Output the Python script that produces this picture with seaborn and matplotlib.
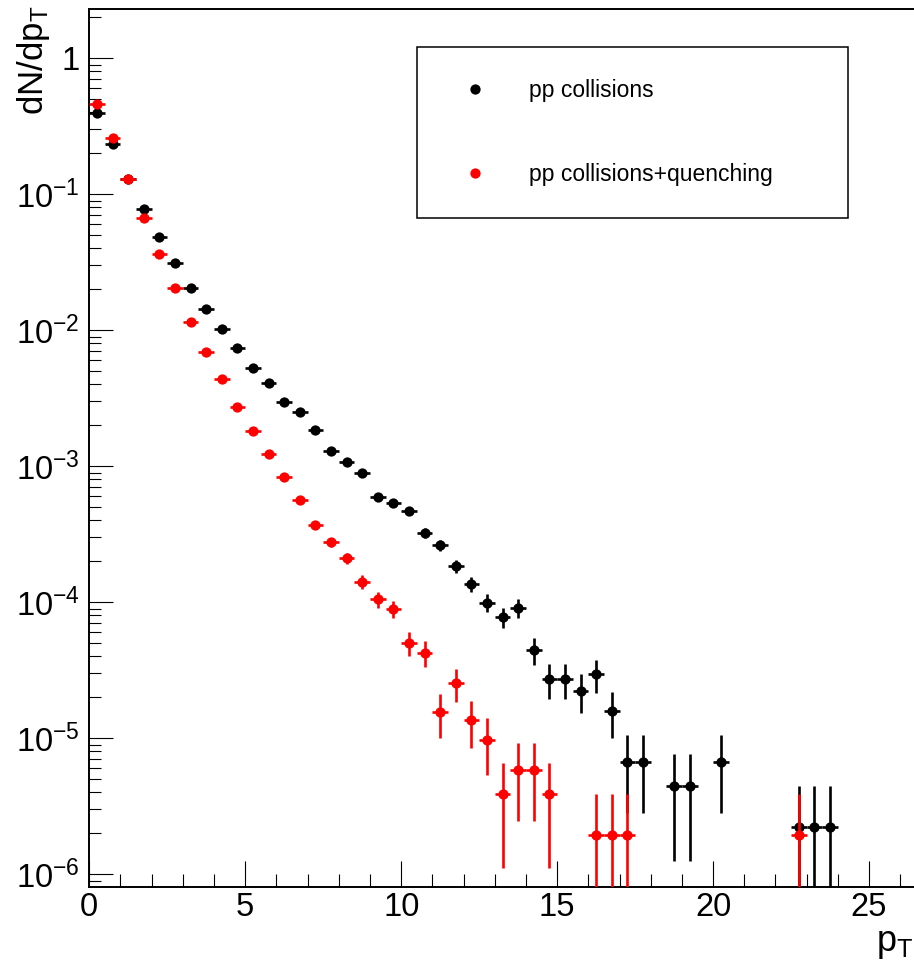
import numpy as np
import pandas as pd
import seaborn as sns
import matplotlib
matplotlib.use("Agg")
import matplotlib.pyplot as plt
from matplotlib.ticker import FixedLocator, FixedFormatter, LogLocator, NullFormatter, MultipleLocator
from matplotlib.lines import Line2D

# ---------------- data ----------------
pt_black = [0.25, 0.75, 1.25, 1.75, 2.25, 2.75, 3.25, 3.75, 4.25, 4.75,
            5.25, 5.75, 6.25, 6.75, 7.25, 7.75, 8.25, 8.75, 9.25, 9.75,
            10.25, 10.75, 11.25, 11.75, 12.25, 12.75, 13.25, 13.75, 14.25, 14.75,
            15.25, 15.75, 16.25, 16.75, 17.25, 17.75, 18.75, 19.25, 20.25,
            22.75, 23.25, 23.75]
y_black = [0.394, 0.234, 0.1296, 0.0776, 0.0483, 0.0311, 0.0204, 0.01446, 0.01022, 0.00738,
           0.00531, 0.00408, 0.00296, 0.00251, 0.00184, 0.00130, 0.00108, 0.000889, 0.000597, 0.000534,
           0.000467, 0.000322, 0.000262, 0.000185, 0.000137, 9.93e-5, 7.76e-5, 9.12e-5, 4.48e-5, 2.72e-5,
           2.72e-5, 2.24e-5, 2.96e-5, 1.59e-5, 6.73e-6, 6.73e-6, 4.46e-6, 4.46e-6, 6.73e-6,
           2.24e-6, 2.24e-6, 2.24e-6]
err_black = [9.4e-4, 7.2e-4, 5.4e-4, 4.2e-4, 3.3e-4, 2.6e-4, 2.1e-4, 1.8e-4, 1.5e-4, 1.3e-4,
             1.1e-4, 9.6e-5, 8.1e-5, 7.5e-5, 6.4e-5, 5.4e-5, 4.9e-5, 4.5e-5, 3.7e-5, 3.5e-5,
             3.2e-5, 2.7e-5, 2.4e-5, 2.0e-5, 1.75e-5, 1.5e-5, 1.3e-5, 1.4e-5, 1.0e-5, 7.8e-6,
             7.8e-6, 7.1e-6, 8.1e-6, 5.9e-6, 3.9e-6, 3.9e-6, 3.2e-6, 3.2e-6, 3.9e-6,
             2.24e-6, 2.24e-6, 2.24e-6]

pt_red = [0.25, 0.75, 1.25, 1.75, 2.25, 2.75, 3.25, 3.75, 4.25, 4.75,
          5.25, 5.75, 6.25, 6.75, 7.25, 7.75, 8.25, 8.75, 9.25, 9.75,
          10.25, 10.75, 11.25, 11.75, 12.25, 12.75, 13.25, 13.75, 14.25, 14.75,
          16.25, 16.75, 17.25, 22.75]
y_red = [0.461, 0.258, 0.130, 0.0666, 0.0364, 0.0204, 0.01156, 0.00689, 0.00436, 0.00274,
         0.00182, 0.00123, 0.00083, 0.000565, 0.00037, 0.000276, 0.000211, 0.000142, 0.000105, 8.93e-5,
         5.05e-5, 4.26e-5, 1.55e-5, 2.54e-5, 1.36e-5, 9.7e-6, 3.87e-6, 5.85e-6, 5.85e-6, 3.87e-6,
         1.95e-6, 1.95e-6, 1.95e-6, 1.95e-6]
err_red = [9.5e-4, 7.1e-4, 5.0e-4, 3.6e-4, 2.66e-4, 2.0e-4, 1.5e-4, 1.16e-4, 9.2e-5, 7.3e-5,
           5.9e-5, 4.9e-5, 4.0e-5, 3.3e-5, 2.7e-5, 2.3e-5, 2.0e-5, 1.66e-5, 1.4e-5, 1.3e-5,
           9.9e-6, 9.1e-6, 5.5e-6, 7.0e-6, 5.1e-6, 4.3e-6, 2.75e-6, 3.4e-6, 3.4e-6, 2.75e-6,
           1.95e-6, 1.95e-6, 1.95e-6, 1.95e-6]
bin_half_width = 0.25

labels = ["pp collisions", "pp collisions+quenching"]
colors = ["black", "red"]
ytick_vals = [1e-6, 1e-5, 1e-4, 1e-3, 1e-2, 1e-1, 1.0]
ytick_labels = [r"$\mathdefault{10^{-6}}$", r"$\mathdefault{10^{-5}}$", r"$\mathdefault{10^{-4}}$",
                r"$\mathdefault{10^{-3}}$", r"$\mathdefault{10^{-2}}$", r"$\mathdefault{10^{-1}}$",
                r"$\mathdefault{1}$"]
xtick_vals = [0, 5, 10, 15, 20, 25]

# ---------------- style ----------------
sns.set_theme(style="white")
plt.rcParams["font.family"] = ["Liberation Sans", "DejaVu Sans"]
plt.rcParams["mathtext.fontset"] = "custom"
plt.rcParams["mathtext.rm"] = "Liberation Sans"
plt.rcParams["mathtext.it"] = "Liberation Sans:italic"
plt.rcParams["mathtext.bf"] = "Liberation Sans:bold"
plt.rcParams["axes.unicode_minus"] = True

W, H = 914, 966
fig = plt.figure(figsize=(W / 100, H / 100), dpi=100)
fig.patch.set_facecolor("white")

left_px, top_px, bottom_px = 89.3, 9.3, 886.7
xmax = 26.5
px_per_unit = 31.19
right_px = left_px + xmax * px_per_unit
ax = fig.add_axes([left_px / W, 1 - bottom_px / H, (right_px - left_px) / W, (bottom_px - top_px) / H])
ax.set_facecolor("white")

df_b = pd.DataFrame({"pt": pt_black, "y": y_black, "err": err_black})
df_r = pd.DataFrame({"pt": pt_red, "y": y_red, "err": err_red})

ms = 7.4
ax.set_yscale("log")
for i, (df, c) in enumerate([(df_b, colors[0]), (df_r, colors[1])]):
    ax.errorbar(df["pt"], df["y"], yerr=df["err"], xerr=bin_half_width, fmt="none",
                ecolor=c, elinewidth=1.9, capsize=0, zorder=2 + 2 * i)
    sns.scatterplot(data=df, x="pt", y="y", ax=ax, color=c, s=ms ** 2, linewidth=0,
                    marker="o", legend=False, zorder=3 + 2 * i)

ax.set_xlim(0, xmax)
ax.set_ylim(10 ** (-6 - (886.7 - 874.3) / 136), 10 ** ((58.3 - 9.3) / 136))
ax.set_xlabel("")
ax.set_ylabel("")

# ticks
ax.yaxis.set_major_locator(FixedLocator(ytick_vals))
ax.yaxis.set_major_formatter(FixedFormatter(ytick_labels))
ax.yaxis.set_minor_locator(LogLocator(base=10, subs=np.arange(2, 10), numticks=30))
ax.yaxis.set_minor_formatter(NullFormatter())
ax.xaxis.set_major_locator(FixedLocator(xtick_vals))
ax.xaxis.set_minor_locator(MultipleLocator(1))
ax.xaxis.set_minor_formatter(NullFormatter())

ax.tick_params(axis="both", which="both", direction="in", left=True, bottom=True,
               right=False, top=False, colors="black", width=0.8)
ax.tick_params(axis="y", which="major", length=17.3, labelsize=23.5, pad=7)
ax.tick_params(axis="y", which="minor", length=8.4)
ax.tick_params(axis="x", which="major", length=18.7, labelsize=23.5, pad=4)
ax.tick_params(axis="x", which="minor", length=9.6)

for side in ["left", "bottom", "top"]:
    ax.spines[side].set_visible(True)
    ax.spines[side].set_color("black")
    ax.spines[side].set_linewidth(1.4)
ax.spines["right"].set_visible(False)
ax.grid(False)

# axis titles
fig.text(913 / W, 1 - 951 / H, r"$\mathdefault{p_{T}}$", ha="right", va="baseline",
         fontsize=26, color="black")
fig.text(33 / W, 1 - 6 / H, r"$\mathdefault{dN/dp_{T}}$", rotation=90, ha="center", va="top",
         fontsize=25, color="black")

# legend
handles = [Line2D([0], [0], marker="o", linestyle="none", color=c, markersize=ms,
                  markeredgewidth=0) for c in colors]
x0, x1, y0, y1 = 417 / W, 848 / W, 1 - 213 / H, 1 - 47 / H
leg = ax.legend(handles, labels, loc="upper left",
                bbox_to_anchor=(x0, y0, x1 - x0, y1 - y0), bbox_transform=fig.transFigure,
                mode="expand", fontsize=16.5, frameon=True, fancybox=False, framealpha=1,
                borderpad=1.4, labelspacing=2.65, handlelength=2.3, handletextpad=1.2,
                borderaxespad=0)
leg.get_frame().set_edgecolor("black")
leg.get_frame().set_linewidth(1.1)
for t in leg.get_texts():
    t.set_color("black")

fig.savefig("out.png", dpi=100, facecolor="white")
